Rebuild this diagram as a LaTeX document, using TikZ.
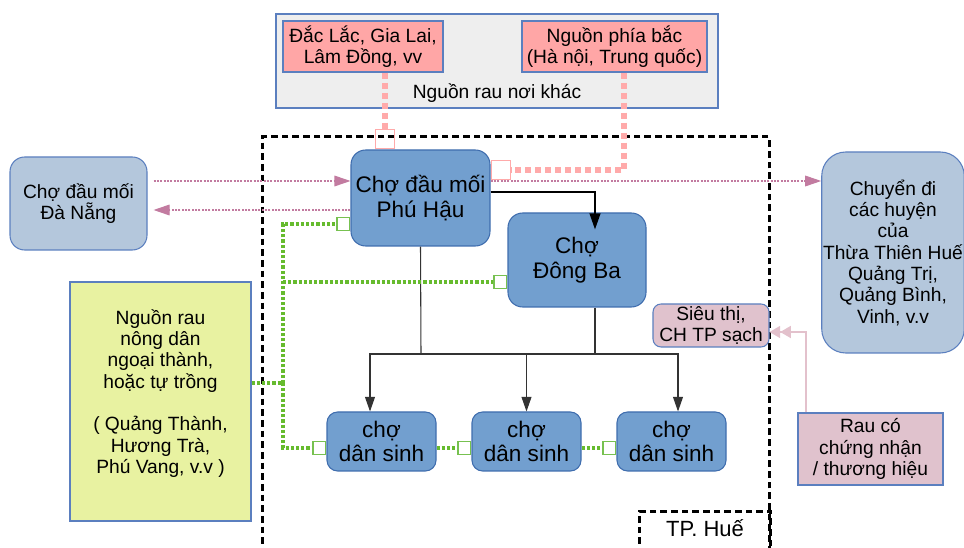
\documentclass[tikz,border=0pt]{standalone}
\usepackage{fontspec}
\setmainfont{Liberation Sans}
\usetikzlibrary{arrows.meta}
\definecolor{nodeblue}{HTML}{729FCF}
\definecolor{bordblue}{HTML}{3F6DAE}
\definecolor{lightblue}{HTML}{B4C7DC}
\definecolor{lightbord}{HTML}{5B7FBF}
\definecolor{pinkfill}{HTML}{FFA6A6}
\definecolor{rosefill}{HTML}{E0C2CD}
\definecolor{limefill}{HTML}{E8F2A1}
\definecolor{greyfill}{HTML}{EEEEEE}
\definecolor{pinkdotc}{HTML}{FFAAAA}
\definecolor{greenc}{HTML}{66BB2E}
\definecolor{greensqc}{HTML}{77C150}
\definecolor{mauvec}{HTML}{C27BA0}
\definecolor{rosearrow}{HTML}{E3C1CC}
\definecolor{treec}{HTML}{333333}
\tikzset{
  fsmall/.style={font=\fontsize{14.4pt}{16pt}\selectfont},
  fbig/.style={font=\fontsize{16.9pt}{18.4pt}\selectfont},
  market/.style={draw=bordblue, fill=nodeblue, line width=0.8pt, fbig, align=center, inner sep=0pt},
  outer/.style={draw=lightbord, fill=lightblue, line width=0.8pt, fsmall, align=center, inner sep=1pt},
  srcbox/.style={draw=lightbord, line width=0.8pt, fsmall, align=center, inner sep=0pt},
  region/.style={draw=black, line width=2.25pt, dash pattern=on 5pt off 3pt},
  pinkdot/.style={draw=pinkdotc, line width=4.5pt, dash pattern=on 4.5pt off 3pt},
  greendot/.style={draw=greenc, line width=2.4pt, dash pattern=on 2.4pt off 1.5pt},
  mauve/.style={draw=mauvec, line width=0.8pt, dash pattern=on 1.5pt off 1pt},
  treeline/.style={draw=treec, line width=0.8pt},
  blkline/.style={draw=black, line width=1.5pt},
  roseline/.style={draw=rosearrow, line width=1.3pt},
  pinksq/.tip={Square[open, line width=1pt, length=15.5pt, width=15.5pt]},
  greensq/.tip={Square[open, color=greensqc, line width=0.9pt, length=10.5pt, width=10.5pt]},
  mtip/.tip={Triangle[length=12pt, width=8pt]},
  treetip/.tip={Triangle[length=11pt, width=7.5pt]},
  btip/.tip={Triangle[length=12pt, width=8pt]},
  dtip/.tip={Triangle[length=8pt, width=9pt] Triangle[length=8pt, width=9pt]},
}
\begin{document}
\begin{tikzpicture}[x=0.75pt, y=-0.75pt]
\useasboundingbox (0,0) rectangle (964,548);
\clip (0,0) rectangle (964,548);

% top source group
\node[srcbox, fill=greyfill, minimum width=331.5pt, minimum height=70.5pt,
      label={[fsmall, yshift=-24pt]center:Nguồn rau nơi khác}] (other) at (497,61) {};
\node[srcbox, fill=pinkfill, minimum width=120pt, minimum height=38.25pt] (daclac) at (363,46.5) {Đắc Lắc, Gia Lai,\\Lâm Đồng, vv};
\node[srcbox, fill=pinkfill, minimum width=138.75pt, minimum height=38.25pt] (bac) at (614.5,46.5) {Nguồn phía bắc\\(Hà nội, Trung quốc)};

% TP Hue region
\node[region, minimum width=380.25pt, minimum height=347.25pt] (hue) at (515.5,368.5) {};
\node[region, anchor=north west, minimum width=98.25pt, inner xsep=0pt, inner ysep=4pt,
      text height=15pt, text depth=25pt, font=\fontsize{16.5pt}{18pt}\selectfont] (huelabel) at (638,510) {TP. Huế};

% markets
\node[market, rounded corners=11pt, minimum width=104.25pt, minimum height=72pt] (phuhau) at (420.5,198) {Chợ đầu mối\\Phú Hậu};
\node[market, rounded corners=11pt, minimum width=103.5pt, minimum height=70.5pt] (dongba) at (577,260) {Chợ\\Đông Ba};
\node[market, rounded corners=8pt, minimum width=81.75pt, minimum height=44.25pt] (cds1) at (381.5,441.5) {chợ\\dân sinh};
\node[market, rounded corners=8pt, minimum width=81.75pt, minimum height=44.25pt] (cds2) at (526.5,441.5) {chợ\\dân sinh};
\node[market, rounded corners=8pt, minimum width=81.75pt, minimum height=44.25pt] (cds3) at (671.5,441.5) {chợ\\dân sinh};

% outside markets
\node[outer, rounded corners=11pt, minimum width=102.75pt, minimum height=69.75pt] (danang) at (78.5,203.5) {Chợ đầu mối\\Đà Nẵng};
\node[outer, rounded corners=18pt, minimum width=106.5pt, minimum height=150.75pt] (chuyendi) at (893,252.5) {Chuyển đi\\các huyện\\của\\Thừa Thiên Huế\\Quảng Trị,\\Quảng Bình,\\Vinh, v.v};

% supermarket and certified
\node[srcbox, fill=rosefill, rounded corners=6pt, minimum width=87pt, minimum height=32.25pt] (sieuthi) at (711,325.5) {Siêu thị,\\CH TP sạch};
\node[srcbox, fill=rosefill, minimum width=108.75pt, minimum height=54pt] (rauco) at (870.5,449) {Rau có\\chứng nhận\\/ thương hiệu};

% local farmers
\node[srcbox, fill=limefill, minimum width=135.75pt, minimum height=179.25pt,
      label={[fsmall, align=center, yshift=6pt]center:Nguồn rau\\nông dân\\ngoại thành,\\hoặc tự trồng\\[16pt]( Quảng Thành,\\Hương Trà,\\Phú Vang, v.v )}] (nguonrau) at (160.5,401.5) {};

% pink thick dotted supply lines
\draw[pinkdot, -pinksq] (385,0 |- daclac.south) -- (385,0 |- phuhau.north);
\draw[pinkdot, -pinksq] (624,0 |- bac.south) |- (phuhau.east |- 0,170);

% mauve flows
\draw[mauve, -mtip] ([xshift=4.5pt]danang.east |- 0,181) -- (phuhau.west |- 0,181);
\draw[mauve, -mtip] (phuhau.west |- 0,210) -- ([xshift=4.5pt]danang.east |- 0,210);
\draw[mauve, -mtip] (phuhau.east |- 0,181) -- (chuyendi.west |- 0,181);

% Phu Hau -> Dong Ba
\draw[blkline, -btip] (phuhau.east |- 0,192) -| ([yshift=-12.75pt]595,0 |- dongba.north);

% tree to local markets
\coordinate (bus) at (421,354);
\draw[treeline] (phuhau.south) -- (bus);
\draw[treeline] (595,0 |- dongba.south) -- (595,354);
\draw[treeline, -treetip] (bus) -| (370,0 |- cds1.north);
\draw[treeline, -treetip] (bus) -| (cds2.north);
\draw[treeline, -treetip] (bus) -| (678,0 |- cds3.north);

% green local supply
\coordinate (gj) at (283,383);
\draw[greendot] (nguonrau.east |- gj) -- (gj);
\draw[greendot, -greensq] (gj) |- (phuhau.west |- 0,224);
\draw[greendot, -greensq] (283,282) -- (dongba.west |- 0,282);
\draw[greendot, -greensq] (gj) |- (cds1.west |- 0,448);
\draw[greendot, -greensq] (cds1.east |- 0,448) -- (cds2.west |- 0,448);
\draw[greendot, -greensq] (cds2.east |- 0,448) -- (cds3.west |- 0,448);

% certified -> supermarket
\draw[roseline, -dtip] (806,0 |- rauco.north) |- (sieuthi.east |- 0,332);
\end{tikzpicture}
\end{document}
